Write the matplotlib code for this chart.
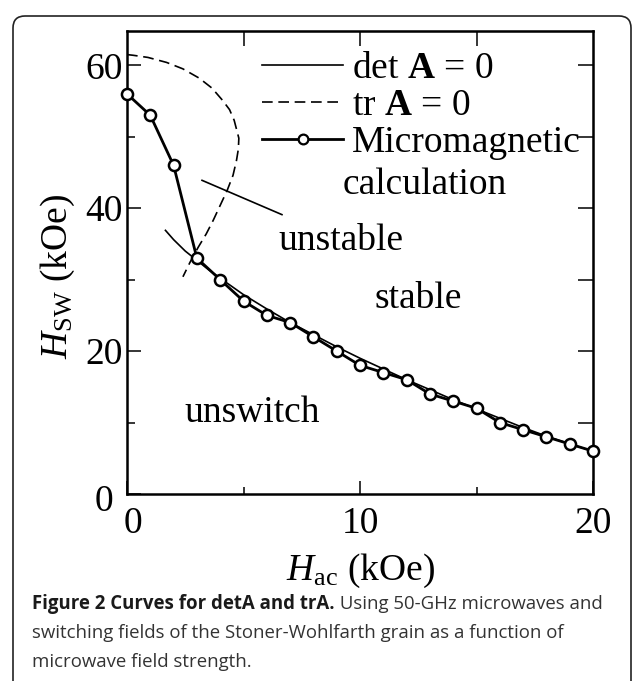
import matplotlib
matplotlib.use("Agg")
import matplotlib.pyplot as plt
import matplotlib.transforms as mtransforms
from matplotlib.lines import Line2D
from matplotlib.patches import FancyBboxPatch

plt.rcParams['font.family'] = 'Liberation Serif'
plt.rcParams['mathtext.fontset'] = 'custom'
plt.rcParams['mathtext.rm'] = 'Liberation Serif'
plt.rcParams['mathtext.it'] = 'Liberation Serif:italic'
plt.rcParams['mathtext.bf'] = 'Liberation Serif:bold'

# micromagnetic calculation (kOe)
h_ac = list(range(0, 21))
h_sw = [56, 53, 46, 33, 30, 27, 25, 24, 22, 20, 18, 17, 16, 14, 13, 12, 10, 9, 8, 7, 6]

# det A = 0 curve
det_x = [1.65, 2.0, 2.5, 3.0, 3.5, 4, 5, 6, 7, 8, 9, 10, 11, 12, 13, 14, 15, 16, 17, 18, 19, 20]
det_y = [36.9, 35.6, 34.0, 32.7, 31.4, 30.2, 27.9, 25.9, 24.0, 22.3, 20.6, 19.0, 17.5, 16.0,
         14.6, 13.2, 11.9, 10.6, 9.3, 8.1, 7.0, 6.0]

# tr A = 0 curve
tr_x = [0, 0.27, 0.9, 1.7, 2.4, 3.1, 3.65, 4.1, 4.4, 4.6, 4.8, 4.78, 4.7, 4.55, 4.3, 4.0,
        3.7, 3.4, 3.05, 2.7, 2.4]
tr_y = [61.5, 61.4, 61.1, 60.4, 59.5, 58.2, 56.8, 55.1, 53.8, 52.3, 49.8, 48.3, 46.7, 44.6,
        42.5, 40.4, 38.3, 36.4, 34.5, 32.4, 30.4]

fs = 27

fig = plt.figure(figsize=(6.36, 6.81), dpi=100)
ax = fig.add_axes([127 / 636, 1 - 494 / 681, 466 / 636, 463 / 681])

ax.plot(det_x, det_y, color='black', lw=1.2)
ax.plot(tr_x, tr_y, color='black', lw=1.2, dashes=(6.4, 3.4))
ax.plot(h_ac, h_sw, color='black', lw=2.0, marker='o', ms=8, mfc='white',
        mec='black', mew=1.8, clip_on=False, zorder=5)

# pointer line near "unstable"
ax.plot([3.22, 6.65], [43.9, 39.1], color='black', lw=1.2)

ax.text(9.18, 34.1, 'unstable', fontsize=fs, ha='center', va='baseline')
ax.text(12.49, 26.0, 'stable', fontsize=fs, ha='center', va='baseline')
ax.text(5.36, 10.1, 'unswitch', fontsize=fs, ha='center', va='baseline')

ax.set_xlim(0, 20)
ax.set_ylim(0, 64.8)
ax.set_xticks([0, 10, 20])
ax.set_xticks([5, 15], minor=True)
ax.set_yticks([0, 20, 40, 60])
ax.set_yticks([10, 30, 50], minor=True)
ax.tick_params(which='both', direction='in', width=1.1, labelsize=fs)
ax.tick_params(axis='x', which='major', length=9.5, pad=9)
ax.tick_params(axis='x', which='minor', length=5)
ax.tick_params(axis='y', which='major', length=10, pad=3)
ax.tick_params(axis='y', which='minor', length=6)
for s in ax.spines.values():
    s.set_linewidth(1.8)

top = ax.secondary_xaxis('top')
top.set_xticks([5, 10, 15])
top.tick_params(direction='in', length=10.5, width=1.1, labeltop=False)
right = ax.secondary_yaxis('right')
right.set_yticks([10, 20, 30, 40, 50, 60])
right.tick_params(direction='in', length=10.5, width=1.1, labelright=False)

ax.set_xlabel(r'$\mathit{H}_{\mathrm{ac}}$ (kOe)', fontsize=fs, labelpad=8)
ax.set_ylabel(r'$\mathit{H}_{\mathrm{SW}}$ (kOe)', fontsize=fs)
ax.yaxis.set_label_coords(-50 / 466, (494 - 277) / 463)

handles = [
    Line2D([], [], color='black', lw=1.2, label=r'det $\mathbf{A}$ = 0'),
    Line2D([], [], color='black', lw=1.2, dashes=(6.4, 3.4), label=r'tr $\mathbf{A}$ = 0'),
    Line2D([], [], color='black', lw=2.0, marker='o', ms=7, mfc='white', mec='black',
           mew=1.6, label='Micromagnetic'),
]
ax.legend(handles=handles, loc='upper left', bbox_to_anchor=(0.29, 0.956), frameon=False,
          fontsize=fs, handlelength=2.16, handletextpad=0.24, labelspacing=0.065,
          borderpad=0, borderaxespad=0, markerfirst=True)
ax.text(9.27, 42.0, 'calculation', fontsize=fs, ha='left', va='baseline')

# nudge the two zero labels like in the original
xl0 = ax.get_xticklabels()[0]
xl0.set_transform(xl0.get_transform() + mtransforms.ScaledTranslation(0.06, 0, fig.dpi_scale_trans))
yl0 = ax.get_yticklabels()[0]
yl0.set_transform(yl0.get_transform() + mtransforms.ScaledTranslation(-0.10, -0.04, fig.dpi_scale_trans))

# frame around figure and caption
box = FancyBboxPatch((0.13, -0.3), 6.18, 6.95, boxstyle='round,pad=0,rounding_size=0.12',
                     transform=fig.dpi_scale_trans, fill=False, edgecolor='#222222', lw=1.2)
fig.patches.append(box)

cap_font = 'Open Sans'
cap_fs = 13.4
x0 = 32 / 636
b1 = fig.text(x0, 1 - 609 / 681, 'Figure 2 Curves for detA and trA.', fontsize=cap_fs,
              family=cap_font, weight='bold', color='#1a1a1a', va='baseline')
fig.canvas.draw()
bb = b1.get_window_extent()
fig.text(bb.x1 / 636, 1 - 609 / 681, ' Using 50-GHz microwaves and', fontsize=cap_fs,
         family=cap_font, color='#333333', va='baseline')
fig.text(x0, 1 - 638 / 681, 'switching fields of the Stoner-Wohlfarth grain as a function of',
         fontsize=cap_fs, family=cap_font, color='#333333', va='baseline')
fig.text(x0, 1 - 667 / 681, 'microwave field strength.', fontsize=cap_fs,
         family=cap_font, color='#333333', va='baseline')

fig.savefig('out.png', dpi=100)
